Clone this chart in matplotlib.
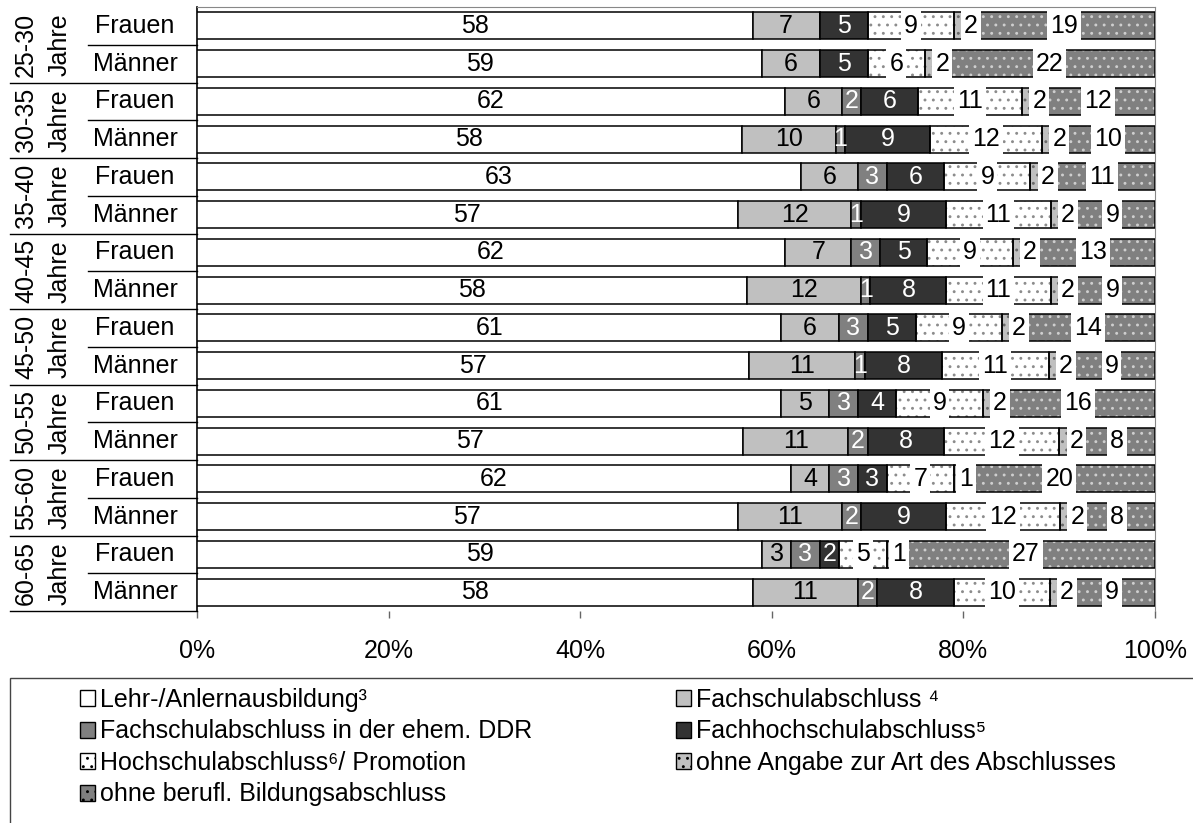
import numpy as np
import matplotlib
matplotlib.use('Agg')
import matplotlib.pyplot as plt
from matplotlib.patches import Patch, Rectangle

plt.rcParams['font.family'] = ['Liberation Sans', 'DejaVu Sans']
plt.rcParams['hatch.linewidth'] = 0.9

ages = ['25-30\nJahre', '30-35\nJahre', '35-40\nJahre', '40-45\nJahre',
        '45-50\nJahre', '50-55\nJahre', '55-60\nJahre', '60-65\nJahre']
genders = ['Frauen', 'Männer']

# Anteile in %, Reihenfolge: je Altersgruppe Frauen, Männer
lehr = [58, 59, 62, 58, 63, 57, 62, 58, 61, 57, 61, 57, 62, 57, 59, 58]
fachschul = [7, 6, 6, 10, 6, 12, 7, 12, 6, 11, 5, 11, 4, 11, 3, 11]
ddr = [0, 0, 2, 1, 3, 1, 3, 1, 3, 1, 3, 2, 3, 2, 3, 2]
fachhoch = [5, 5, 6, 9, 6, 9, 5, 8, 5, 8, 4, 8, 3, 9, 2, 8]
hochschul = [9, 6, 11, 12, 9, 11, 9, 11, 9, 11, 9, 12, 7, 12, 5, 10]
ohne_angabe = [2, 2, 2, 2, 2, 2, 2, 2, 2, 2, 2, 2, 1, 2, 1, 2]
ohne_abschluss = [19, 22, 12, 10, 11, 9, 13, 9, 14, 9, 16, 8, 20, 8, 27, 9]

legend_labels = ['Lehr-/Anlernausbildung³', 'Fachschulabschluss ⁴',
                 'Fachschulabschluss in der ehem. DDR', 'Fachhochschulabschluss⁵',
                 'Hochschulabschluss⁶/ Promotion', 'ohne Angabe zur Art des Abschlusses',
                 'ohne berufl. Bildungsabschluss']

series = [lehr, fachschul, ddr, fachhoch, hochschul, ohne_angabe, ohne_abschluss]
# (fill, hatch, hatch colour, text colour, white label box, label offset)
styles = [('white', None, None, 'black', False, 0),
          ('#c0c0c0', None, None, 'black', False, 0),
          ('#808080', None, None, 'white', False, 0),
          ('#333333', None, None, 'white', False, 0),
          ('white', '..', '#8c8c8c', 'black', True, 0),
          ('#c0c0c0', '..', '#6a6a6a', 'black', True, 0.8),
          ('#808080', '..', '#cfcfcf', 'black', True, 0)]

FS = 18
vals = np.array(series, dtype=float)
pct = vals / vals.sum(axis=0) * 100
y = np.arange(vals.shape[1])

W, H = 1193, 823
fig = plt.figure(figsize=(W / 100, H / 100), dpi=100)
ax = fig.add_axes([197 / W, 1 - 611 / H, 958 / W, 604 / H])

left = np.zeros(len(y))
for k in range(len(series)):
    fc, hatch, hc, tc, box, off = styles[k]
    if hatch:
        ax.barh(y, pct[k], left=left, height=0.72, color=fc, hatch=hatch,
                edgecolor=hc, linewidth=0, zorder=2)
        ax.barh(y, pct[k], left=left, height=0.72, fill=False,
                edgecolor='black', linewidth=1.1, zorder=3)
    else:
        ax.barh(y, pct[k], left=left, height=0.72, color=fc,
                edgecolor='black', linewidth=1.1, zorder=3)
    for i in range(len(y)):
        if vals[k, i] == 0:
            continue
        kw = {}
        if box:
            kw['bbox'] = dict(boxstyle='square,pad=0.12', fc='white', ec='none')
        ax.text(left[i] + pct[k, i] / 2 + off, y[i], '%d' % vals[k, i],
                ha='center', va='center', color=tc, fontsize=FS, zorder=5, **kw)
    left += pct[k]

ax.set_xlim(0, 100)
ax.set_ylim(len(y) - 0.5, -0.5)
ax.set_yticks([])
ax.set_xticks(np.arange(0, 101, 20))
ax.set_xticklabels(['%d%%' % v for v in range(0, 101, 20)], fontsize=FS)
ax.tick_params(axis='x', direction='out', length=5, width=1, color='#666666', pad=15)
ax.spines['bottom'].set_visible(False)
ax.spines['top'].set_color('#888888')
ax.spines['right'].set_color('#888888')
ax.spines['left'].set_color('black')
ax.spines['left'].set_linewidth(1.2)

# Beschriftung links mit Trennlinien
tr = ax.get_yaxis_transform()
for g, age in enumerate(ages):
    ax.text(-0.161, 2 * g + 0.5, age, transform=tr, rotation=90, ha='center',
            va='center', fontsize=FS, linespacing=1.5)
    for j, gen in enumerate(genders):
        ax.text(-0.0647, 2 * g + j, gen, transform=tr, ha='center', va='center',
                fontsize=FS)
    ax.plot([-0.114, 0], [2 * g + 0.5] * 2, transform=tr, color='black',
            lw=1, clip_on=False)
    ax.plot([-0.195, 0], [2 * g + 1.5] * 2, transform=tr, color='black',
            lw=1, clip_on=False)

handles = []
for fc, hatch, hc, tc, box, off in styles:
    handles.append(Patch(facecolor=fc, hatch=hatch, edgecolor='black', linewidth=1))
order = [0, 2, 4, 6, 1, 3, 5]
fig.legend([handles[i] for i in order], [legend_labels[i] for i in order],
           loc='upper left', bbox_to_anchor=(80 / W, 1 - 688 / H), ncol=2,
           frameon=False, fontsize=FS, handlelength=0.6, handleheight=0.6,
           handletextpad=0.2, columnspacing=5.75, labelspacing=0.3,
           borderpad=0, borderaxespad=0)
fig.patches.append(Rectangle((10 / W, -0.1), 1.2, 0.1 + (H - 678) / H,
                             transform=fig.transFigure, fill=False,
                             edgecolor='#444444', linewidth=1))

fig.savefig('out.png', dpi=100)
